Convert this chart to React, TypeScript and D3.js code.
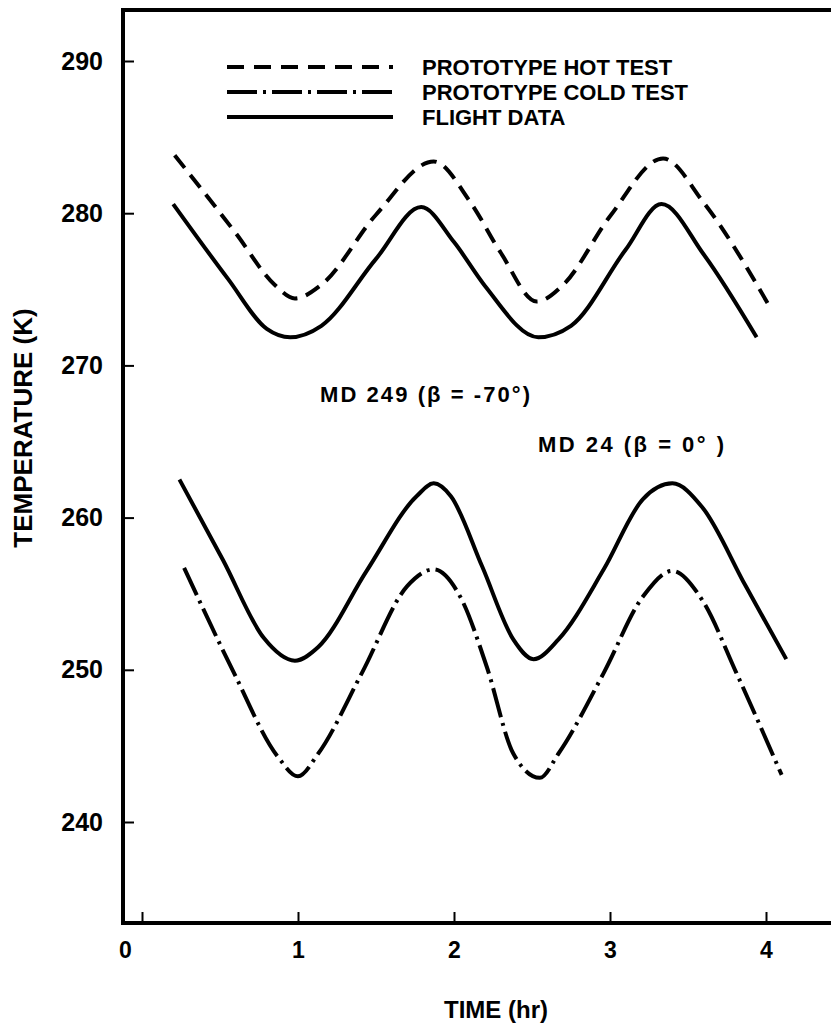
import React, { useEffect, useRef } from "react";
import * as d3 from "d3";

// time (hr) ticks and temperature (K) ticks
const xTicks = [0, 1, 2, 3, 4];
const yTicks = [240, 250, 260, 270, 280, 290];

// MD 249 (beta = -70) : prototype hot test vs flight
const hotTest: [number, number][] = [
  [0.21, 283.8], [0.6, 278.7], [0.85, 275.3], [0.98, 274.4], [1.15, 275.3],
  [1.5, 279.9], [1.87, 283.4], [2.1, 280.8], [2.3, 277.4], [2.53, 274.2],
  [2.7, 275.3], [3.0, 279.8], [3.34, 283.6], [3.6, 280.7], [4.01, 274.1],
];
const flight249: [number, number][] = [
  [0.2, 280.6], [0.55, 275.7], [0.8, 272.4], [0.95, 271.85], [1.15, 272.6],
  [1.5, 277.0], [1.79, 280.4], [2.0, 278.1], [2.2, 275.2], [2.54, 271.85],
  [2.75, 272.6], [3.1, 277.6], [3.33, 280.6], [3.6, 277.3], [3.94, 271.85],
];

// MD 24 (beta = 0) : flight vs prototype cold test
const flight24: [number, number][] = [
  [0.24, 262.5], [0.52, 257.2], [0.78, 252.1], [0.98, 250.6], [1.13, 251.5],
  [1.44, 256.5], [1.76, 261.4], [1.87, 262.25], [1.98, 261.4], [2.18, 256.8],
  [2.38, 252.0], [2.51, 250.7], [2.67, 252.0], [2.96, 256.6], [3.21, 261.2],
  [3.4, 262.25], [3.59, 260.7], [3.87, 255.5], [4.13, 250.7],
];
const coldTest: [number, number][] = [
  [0.27, 256.7], [0.58, 250.0], [0.87, 244.3], [1.0, 243.0], [1.13, 244.5],
  [1.41, 249.8], [1.7, 255.5], [1.87, 256.6], [2.04, 254.8], [2.21, 250.2],
  [2.38, 244.5], [2.55, 242.9], [2.67, 244.5], [2.96, 249.8], [3.21, 254.8],
  [3.4, 256.5], [3.59, 254.6], [3.81, 249.8], [4.1, 243.1],
];

const DASH = "16 9";
const DASH_DOT = "30 6 3 6";

const legendItems = [
  { label: "PROTOTYPE HOT TEST", dash: "17 10" },
  { label: "PROTOTYPE COLD TEST", dash: DASH_DOT },
  { label: "FLIGHT DATA", dash: null },
];

export default function App() {
  const svgRef = useRef<SVGSVGElement>(null);

  useEffect(() => {
    const svg = d3.select(svgRef.current);
    svg.selectAll("*").remove();

    const width = 831, height = 1028;
    const left = 123, top = 10, bottom = 923;
    const font = "'Liberation Sans', Arial, Helvetica, sans-serif";

    const x = d3.scaleLinear().domain([0, 4]).range([142, 766]);
    const y = d3.scaleLinear().domain([240, 290]).range([822, 61]);

    svg.attr("width", width).attr("height", height);

    // frame (left, top, bottom)
    svg.append("path")
      .attr("d", `M${width},${top}H${left}V${bottom}H${width}`)
      .attr("fill", "none")
      .attr("stroke", "#000")
      .attr("stroke-width", 4);

    // y axis
    const yAxis = svg.append("g")
      .attr("transform", `translate(${left},0)`)
      .call(d3.axisLeft(y).tickValues(yTicks).tickSize(-11).tickPadding(20).tickFormat(d3.format("d")));
    yAxis.select(".domain").remove();
    yAxis.selectAll("line").attr("stroke", "#000").attr("stroke-width", 2);
    yAxis.selectAll("text")
      .attr("font-family", font).attr("font-weight", "bold")
      .attr("font-size", 25).attr("fill", "#000");

    // x axis
    const xAxis = svg.append("g")
      .attr("transform", `translate(0,${bottom})`)
      .call(d3.axisBottom(x).tickValues(xTicks).tickSize(-11).tickPadding(19).tickFormat(d3.format("d")));
    xAxis.select(".domain").remove();
    xAxis.selectAll("line").attr("stroke", "#000").attr("stroke-width", 2);
    xAxis.selectAll("text")
      .attr("font-family", font).attr("font-weight", "bold")
      .attr("font-size", 23).attr("fill", "#000");
    // the zero sits under the axis corner in the original
    xAxis.selectAll<SVGTextElement, number>("text").filter(d => d === 0).attr("dx", -17);

    // axis titles
    svg.append("text")
      .attr("transform", "translate(23,428) rotate(-90)")
      .attr("text-anchor", "middle")
      .attr("dy", "0.35em")
      .attr("font-family", font).attr("font-weight", "bold").attr("font-size", 26)
      .text("TEMPERATURE (K)");

    svg.append("text")
      .attr("x", 496).attr("y", 1018)
      .attr("text-anchor", "middle")
      .attr("font-family", font).attr("font-weight", "bold").attr("font-size", 24)
      .text("TIME (hr)");

    // curves
    const line = d3.line<[number, number]>()
      .x(d => x(d[0]))
      .y(d => y(d[1]))
      .curve(d3.curveMonotoneX);

    const series = [
      { data: hotTest, dash: DASH },
      { data: flight249, dash: null },
      { data: flight24, dash: null },
      { data: coldTest, dash: DASH_DOT },
    ];

    svg.selectAll("path.curve")
      .data(series)
      .enter()
      .append("path")
      .attr("class", "curve")
      .attr("d", d => line(d.data))
      .attr("fill", "none")
      .attr("stroke", "#000")
      .attr("stroke-width", 4)
      .attr("stroke-dasharray", d => d.dash)
      .attr("stroke-linejoin", "round");

    // legend
    const legend = svg.append("g");
    legendItems.forEach((item, i) => {
      const ly = 67 + i * 25;
      legend.append("line")
        .attr("x1", 227).attr("x2", 393)
        .attr("y1", ly).attr("y2", ly)
        .attr("stroke", "#000")
        .attr("stroke-width", 4)
        .attr("stroke-dasharray", item.dash);
      legend.append("text")
        .attr("x", 422).attr("y", ly)
        .attr("dy", "0.36em")
        .attr("font-family", font).attr("font-weight", "bold").attr("font-size", 22)
        .text(item.label);
    });

    // case labels
    svg.append("text")
      .attr("x", 320).attr("y", 402)
      .attr("font-family", font).attr("font-weight", "bold").attr("font-size", 22)
      .attr("textLength", 210).attr("lengthAdjust", "spacing")
      .text("MD 249  (\u03B2 = -70\u00B0)");

    svg.append("text")
      .attr("x", 538).attr("y", 452)
      .attr("font-family", font).attr("font-weight", "bold").attr("font-size", 22)
      .attr("textLength", 186).attr("lengthAdjust", "spacing")
      .text("MD 24 (\u03B2 = 0\u00B0 )");
  }, []);

  return (
    <svg
      ref={svgRef}
      style={{ position: "absolute", left: 0, top: 0, display: "block", background: "#fff" }}
    />
  );
}
